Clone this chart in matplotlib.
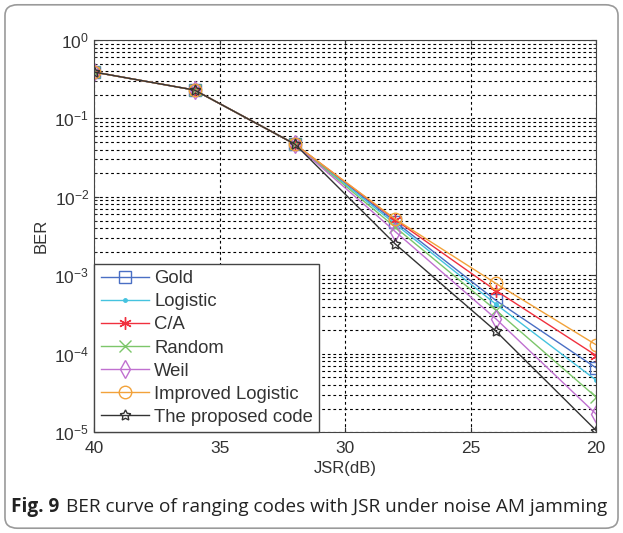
import matplotlib
matplotlib.use("Agg")
import matplotlib.pyplot as plt
from matplotlib.patches import FancyBboxPatch
from matplotlib.offsetbox import TextArea, HPacker, AnchoredOffsetbox

plt.rcParams['font.family'] = ['Liberation Sans', 'DejaVu Sans']
plt.rcParams['mathtext.fontset'] = 'custom'
plt.rcParams['mathtext.rm'] = 'Liberation Sans'
plt.rcParams['mathtext.it'] = 'Liberation Sans'

# JSR points (dB) and BER values
jsr = [40, 36, 32, 28, 24, 20]
ber_gold = [0.39, 0.23, 0.047, 4.8e-3, 4.8e-4, 6.6e-5]
ber_logistic = [0.39, 0.23, 0.047, 4.5e-3, 4.3e-4, 4.6e-5]
ber_ca = [0.39, 0.23, 0.047, 5.1e-3, 6.4e-4, 9.5e-5]
ber_random = [0.39, 0.23, 0.047, 4.1e-3, 3.6e-4, 2.8e-5]
ber_weil = [0.39, 0.23, 0.047, 3.6e-3, 2.8e-4, 1.7e-5]
ber_improved = [0.39, 0.23, 0.047, 5.2e-3, 7.9e-4, 1.3e-4]
ber_proposed = [0.39, 0.23, 0.047, 2.5e-3, 1.95e-4, 1.05e-5]

labels = ["Gold", "Logistic", "C/A", "Random", "Weil",
          "Improved Logistic", "The proposed code"]
series = [ber_gold, ber_logistic, ber_ca, ber_random, ber_weil,
          ber_improved, ber_proposed]
colors = ["#4a6fc4", "#45c3df", "#f0303e", "#7cc66a", "#c070d0",
          "#f2a23a", "#333333"]
markers = ["s", ".", (6, 2, 0), "x", "d", "o", (5, 1, 0)]
sizes = [8, 5, 9, 8, 9, 9, 8]

fig = plt.figure(figsize=(6.23, 5.33), dpi=100)
ax = fig.add_axes([0.151, 0.189, 0.806, 0.736])

for ys, lab, c, m, s in zip(series, labels, colors, markers, sizes):
    filled = m in (".", "x") or m == (6, 2, 0)
    ax.plot(jsr, ys, color=c, marker=m, lw=1.0, ms=s,
            markerfacecolor=c if filled else "none", markeredgecolor=c,
            markeredgewidth=1.0, label=lab)

ax.set_yscale("log")
ax.set_ylim(1e-5, 1)
ax.set_xlim(40, 20)
ax.set_xticks([40, 35, 30, 25, 20])
ax.set_yticks([1e-5, 1e-4, 1e-3, 1e-2, 1e-1, 1])
ax.grid(True, which="major", axis="x", color="k", ls=(0, (2.5, 2.5)), lw=0.8)
ax.grid(True, which="both", axis="y", color="k", ls=(0, (2.5, 2.5)), lw=0.8)
ax.tick_params(which="both", direction="in", top=True, right=True,
               labelsize=12.5, colors="#333333")
ax.tick_params(axis="x", pad=6)
for s in ax.spines.values():
    s.set_color("#444444")
ax.set_xlabel("JSR(dB)", fontsize=12, color="#333333", labelpad=4)
ax.set_ylabel("BER", fontsize=12, color="#333333", labelpad=4)

leg = ax.legend(loc="lower left", fontsize=13.3, frameon=True, fancybox=False,
                borderaxespad=0, handlelength=2.6, labelspacing=0.33,
                handletextpad=0.3, borderpad=0.35)
leg.get_frame().set_edgecolor("#444444")
leg.get_frame().set_linewidth(1.0)
leg.get_frame().set_alpha(1)
for t in leg.get_texts():
    t.set_color("#333333")

# caption with bold figure number
cap = HPacker(children=[
    TextArea("Fig. 9", textprops=dict(fontsize=13.7, fontweight="bold",
                                      family="Open Sans", color="#222222")),
    TextArea("BER curve of ranging codes with JSR under noise AM jamming",
             textprops=dict(fontsize=13.7, family="Open Sans", color="#222222")),
], align="baseline", pad=0, sep=5)
anch = AnchoredOffsetbox(loc="lower left", child=cap, frameon=False,
                         bbox_to_anchor=(0.017, 0.03), bbox_transform=fig.transFigure,
                         borderpad=0, pad=0)
fig.add_artist(anch)

border = FancyBboxPatch((0.008, 0.009), 0.984, 0.982, transform=fig.transFigure,
                        boxstyle="round,pad=0,rounding_size=0.02",
                        facecolor="none", edgecolor="#9a9a9a", lw=1.2)
fig.add_artist(border)

fig.savefig("out.png", dpi=100)
